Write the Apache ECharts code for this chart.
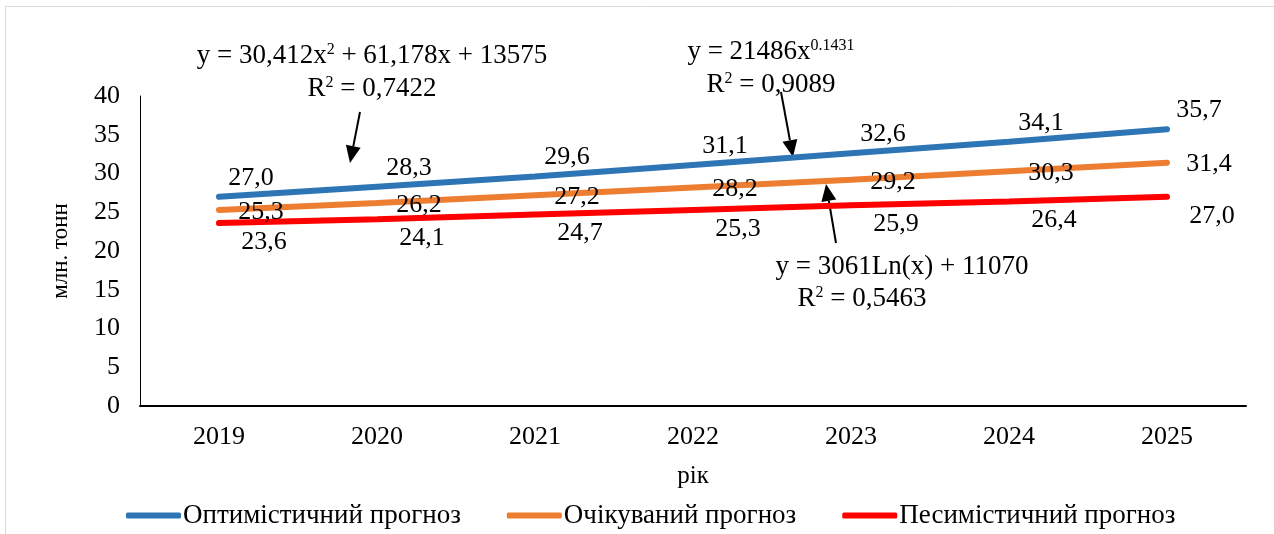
<!DOCTYPE html>
<html>
<head>
<meta charset="utf-8">
<script src="https://cdn.jsdelivr.net/npm/echarts@6/dist/echarts.min.js"></script>
<style>
  html, body { margin: 0; padding: 0; background: #fff; }
  #chart { width: 1274px; height: 534px; }
</style>
</head>
<body>
<div id="chart"></div>
<script>
// роки прогнозу
const years = ['2019', '2020', '2021', '2022', '2023', '2024', '2025'];
// млн. тонн
const optimistic = [27.0, 28.3, 29.6, 31.1, 32.6, 34.1, 35.7];
const expected = [25.3, 26.2, 27.2, 28.2, 29.2, 30.3, 31.4];
const pessimistic = [23.6, 24.1, 24.7, 25.3, 25.9, 26.4, 27.0];
const yTicks = { min: 0, max: 40, step: 5 };

const FONT = '"Liberation Serif", "Times New Roman", serif';
const colors = ['#2e75b6', '#ed7d31', '#ff0000'];

const fmt = p => p.value.toFixed(1).replace('.', ',');

function makeSeries(name, data, color, offset) {
    return {
        name: name,
        type: 'line',
        data: data,
        symbol: 'circle',
        symbolSize: 2,
        itemStyle: { color: color },
        lineStyle: { color: color, width: 6, cap: 'round' },
        label: {
            show: true,
            position: 'inside',
            offset: offset,
            formatter: fmt,
            color: '#000',
            fontFamily: FONT,
            fontSize: 26
        },
        emphasis: { disabled: true },
        animation: false
    };
}

// стрілка: лінія + трикутник
function arrow(x1, y1, x2, y2) {
    const a = Math.atan2(y2 - y1, x2 - x1);
    const len = 17, half = 7.5;
    const bx = x2 - len * Math.cos(a), by = y2 - len * Math.sin(a);
    const px = -Math.sin(a) * half, py = Math.cos(a) * half;
    return [
        { type: 'line', shape: { x1: x1, y1: y1, x2: bx, y2: by }, style: { stroke: '#000', lineWidth: 2 } },
        { type: 'polygon', shape: { points: [[x2, y2], [bx + px, by + py], [bx - px, by - py]] }, style: { fill: '#000' } }
    ];
}

const rich = {
    n: { fontFamily: FONT, fontSize: 27, color: '#000', lineHeight: 33 },
    s: { fontFamily: FONT, fontSize: 16, color: '#000', lineHeight: 33, padding: [0, 0, 12, 0] }
};

function eq(x, y, text) {
    return {
        type: 'text', x: x, y: y,
        style: { text: text, rich: rich, align: 'center', verticalAlign: 'top', textAlign: 'center', textVerticalAlign: 'top' }
    };
}

const chart = echarts.init(document.getElementById('chart'));

const option = {
    backgroundColor: '#fff',
    animation: false,
    grid: { left: 140, right: 28, top: 96, bottom: 128 },
    legend: {
        bottom: 0,
        left: 121,
        icon: 'roundRect',
        itemWidth: 55,
        itemHeight: 6,
        itemGap: 46,
        textStyle: { fontFamily: FONT, fontSize: 27, color: '#000', padding: [0, 0, 0, -3] },
        data: ['Оптимістичний прогноз', 'Очікуваний прогноз', 'Песимістичний прогноз']
    },
    xAxis: {
        type: 'category',
        data: years,
        boundaryGap: true,
        name: 'рік',
        nameLocation: 'middle',
        nameGap: 58,
        nameTextStyle: { fontFamily: FONT, fontSize: 25, color: '#000' },
        axisLine: { lineStyle: { color: '#000', width: 2 } },
        axisTick: { show: false },
        axisLabel: { fontFamily: FONT, fontSize: 26, color: '#000', margin: 18 },
        splitLine: { show: false }
    },
    yAxis: {
        type: 'value',
        min: yTicks.min,
        max: yTicks.max,
        interval: yTicks.step,
        name: 'млн. тонн',
        nameLocation: 'middle',
        nameGap: 68,
        nameRotate: 90,
        nameTextStyle: { fontFamily: FONT, fontSize: 23, color: '#000' },
        axisLine: { show: true, lineStyle: { color: '#000', width: 1 } },
        axisTick: { show: false },
        axisLabel: { fontFamily: FONT, fontSize: 26, color: '#000', margin: 20 },
        splitLine: { show: false }
    },
    series: [
        makeSeries('Оптимістичний прогноз', optimistic, colors[0], [32, -19]),
        makeSeries('Очікуваний прогноз', expected, colors[1], [42, 2]),
        makeSeries('Песимістичний прогноз', pessimistic, colors[2], [45, 19])
    ],
    graphic: [
        { type: 'rect', shape: { x: 5.5, y: 6.5, width: 1300, height: 600 }, style: { fill: null, stroke: '#d9d9d9', lineWidth: 1 }, z: -1 },
        eq(372, 39, '{n|y = 30,412x}{s|2}{n| + 61,178x + 13575}\n{n|R}{s|2}{n| = 0,7422}'),
        eq(771, 35, '{n|y = 21486x}{s|0.1431}\n{n|R}{s|2}{n| = 0,9089}'),
        eq(902, 250, '{n|y = 3061Ln(x) + 11070}'),
        eq(862, 282, '{n|R}{s|2}{n| = 0,5463}'),
        ...arrow(360, 112, 350, 163),
        ...arrow(781, 92, 793, 157),
        ...arrow(836, 243, 826, 184)
    ]
};

chart.setOption(option);
</script>
</body>
</html>
